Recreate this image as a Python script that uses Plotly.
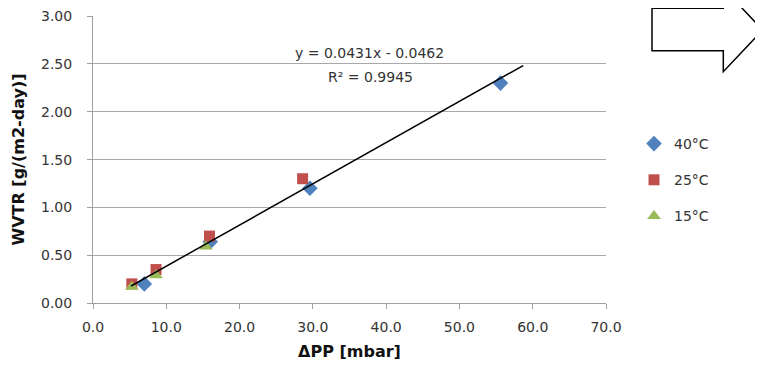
import plotly.graph_objects as go

# Data
x_40 = [7.0, 16.0, 29.6, 55.6]
y_40 = [0.20, 0.64, 1.20, 2.30]
x_25 = [5.3, 8.6, 15.9, 28.6]
y_25 = [0.20, 0.35, 0.70, 1.30]
x_15 = [5.3, 8.6, 15.4]
y_15 = [0.17, 0.29, 0.59]
series_names = ["40°C", "25°C", "15°C"]
slope = 0.0431
intercept = -0.0462
r_squared = 0.9945
trend_x = [5.2, 58.7]
x_ticks = [0, 10, 20, 30, 40, 50, 60, 70]
y_ticks = [0, 0.5, 1.0, 1.5, 2.0, 2.5, 3.0]

W, H = 763, 371
OFF = 8  # page body offset
PL, PR, PT, PB = 93, 606, 16, 303  # plot area in page pixels
L, T = PL - OFF, PT - OFF
R = W - (PR - OFF)
B = H - (PB - OFF)


def px(xp):
    return (xp - PL) / (PR - PL)


def py(yp):
    return (PB - yp) / (PB - PT)


font_fam = "'DejaVu Sans', sans-serif"
txt = "#333333"
fig = go.Figure()
fig.add_trace(go.Scatter(x=x_40, y=y_40, mode="markers", name=series_names[0], legendgroup="a",
                         marker=dict(symbol="diamond", size=12, color="#4F81BD")))
fig.add_trace(go.Scatter(x=x_25, y=y_25, mode="markers", name=series_names[1], legendgroup="b",
                         marker=dict(symbol="square", size=11, color="#C0504D")))
fig.add_trace(go.Scatter(x=x_15, y=y_15, mode="markers", name=series_names[2], legendgroup="c",
                         marker=dict(symbol="triangle-up", size=12, color="#9BBB59")))
fig.add_trace(go.Scatter(x=trend_x, y=[slope * v + intercept for v in trend_x], mode="lines",
                         line=dict(color="black", width=1.5), showlegend=False, hoverinfo="skip"))

fig.add_annotation(x=px(369), y=py(53), xref="paper", yref="paper",
                   text="y = %.4fx - %.4f" % (slope, -intercept), showarrow=False,
                   font=dict(family=font_fam, size=14, color=txt), xanchor="center", yanchor="middle")
fig.add_annotation(x=px(370), y=py(77), xref="paper", yref="paper",
                   text="R² = %.4f" % r_squared, showarrow=False,
                   font=dict(family=font_fam, size=14, color=txt), xanchor="center", yanchor="middle")

# block arrow decoration
pts = [(652, 8.3), (723.3, 8.3), (723.3, -11.7), (762.7, 30), (723.3, 71.7), (723.3, 50.7), (652, 50.7)]
path = "M " + " L ".join("%f,%f" % (px(a), py(b)) for a, b in pts) + " Z"
fig.add_shape(type="path", path=path, xref="paper", yref="paper",
              line=dict(color="black", width=1.5), fillcolor="white")

fig.update_layout(
    width=W, height=H, margin=dict(l=L, r=R, t=T, b=B, autoexpand=False),
    plot_bgcolor="white", paper_bgcolor="white",
    font=dict(family=font_fam, size=14, color=txt),
    xaxis=dict(range=[0, 70], tickvals=x_ticks, ticktext=["%.1f" % v for v in x_ticks],
               showgrid=False, zeroline=False, showline=True, linecolor="#A0A0A0", linewidth=1,
               ticks="outside", ticklen=5, tickcolor="#A0A0A0", ticklabelstandoff=6,
               ticklabeloverflow="allow",
               title=dict(text="<b>ΔPP [mbar]</b>", font=dict(size=16, color="#111"), standoff=12)),
    yaxis=dict(range=[0, 3.002], tickvals=y_ticks, ticktext=["%.2f" % v for v in y_ticks],
               showgrid=True, gridcolor="#A8A8A8", gridwidth=1, zeroline=False,
               showline=True, linecolor="#A0A0A0", linewidth=1,
               ticks="outside", ticklen=5, tickcolor="#A0A0A0", ticklabelstandoff=12,
               ticklabeloverflow="allow",
               title=dict(text="<b>WVTR [g/(m2-day)]</b>", font=dict(size=16, color="#111"), standoff=12)),
    legend=dict(x=px(634), y=py(128), xanchor="left", yanchor="top", tracegroupgap=15,
                font=dict(size=14, color=txt), itemwidth=30, bgcolor="rgba(0,0,0,0)"),
)

fig.write_html("out.html")
